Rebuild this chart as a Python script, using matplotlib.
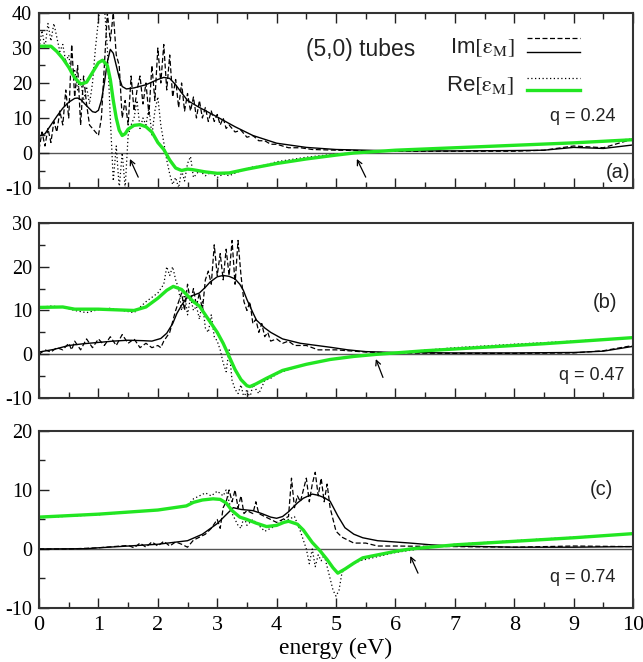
import numpy as np
import matplotlib
matplotlib.use("Agg")
import matplotlib.pyplot as plt
from matplotlib.ticker import MultipleLocator

# ---- panel (a), q = 0.24 ----
a_re_e = [0, 0.2, 0.3, 0.4, 0.5, 0.6, 0.7, 0.8, 0.9, 1.0, 1.07, 1.15, 1.2, 1.25, 1.3,
          1.35, 1.4, 1.45, 1.5, 1.6, 1.7, 1.8, 1.9, 2.0, 2.1, 2.2, 2.3, 2.4, 2.5, 2.6,
          2.8, 3.0, 3.2, 3.5, 4.0, 4.5, 5.0, 5.3, 6, 7, 8, 9, 10]
a_re = [30.5, 30.5, 29, 27, 24.5, 21.5, 19.7, 20.2, 23, 25.8, 26.5, 25, 21, 15, 10,
        6.5, 5, 5.5, 6.8, 7.9, 8.1, 7.5, 6, 3, 1, -2, -4.3, -5, -4.6, -4.8,
        -5.4, -5.8, -5.7, -4.6, -3, -1.7, -0.6, 0, 0.8, 1.5, 2.2, 2.9, 3.8]
a_im_e = [0, 0.1, 0.2, 0.3, 0.4, 0.5, 0.6, 0.65, 0.7, 0.8, 0.9, 0.95, 1.0, 1.05, 1.1,
          1.15, 1.2, 1.25, 1.3, 1.35, 1.4, 1.47, 1.6, 1.8, 2.0, 2.1, 2.2, 2.3, 2.4, 2.5,
          2.7, 3.0, 3.3, 3.6, 4.0, 4.5, 5, 6, 7, 8, 8.5, 9, 9.5, 10]
a_im = [4.8, 5.5, 8, 10.5, 12.8, 14.5, 15.6, 15.7, 15.3, 13.5, 11.8, 11.6, 12.2, 15, 20,
        26, 29.6, 28.5, 25, 21.5, 19, 18.3, 18.6, 19.5, 21, 21.6, 21.3, 19.5, 17.2, 15,
        13, 10.3, 7.5, 5, 2.8, 1.6, 1.0, 0.6, 0.6, 0.7, 0.8, 1.6, 1.3, 2.3]
a_imraw_e = [0, 0.05, 0.1, 0.15, 0.2, 0.25, 0.3, 0.35, 0.4, 0.45, 0.5, 0.55, 0.6, 0.65,
             0.7, 0.75, 0.8, 0.85, 0.9, 0.95, 1.0, 1.05, 1.1, 1.15, 1.2, 1.25, 1.3, 1.35,
             1.4, 1.45, 1.5, 1.55, 1.6, 1.65, 1.7, 1.75, 1.8, 1.85, 1.9, 1.95, 2.0, 2.05,
             2.1, 2.15, 2.2, 2.25, 2.3, 2.35, 2.4, 2.45, 2.5, 2.55, 2.6, 2.65, 2.7, 2.75,
             2.8, 2.85, 2.9, 2.95, 3.0, 3.05, 3.1, 3.15, 3.2, 3.3, 3.4, 3.5, 3.6, 3.7,
             3.8, 3.9, 4.0, 4.2, 4.4, 4.6, 5.0, 6.0, 7.0, 8.0, 8.5, 9.0, 9.5, 10]
a_imraw = [1, 6, 2, 7, 3, 9, 6, 12, 8, 18, 10, 31, 16, 25,
           8, 22, 14, 8, 7, 6, 5, 10, 25, 40, 32, 40, 28, 25,
           10, 15, 8, 22, 12, 18, 22, 14, 20, 11, 25, 15, 30, 20,
           31, 18, 28, 16, 21, 13, 20, 12, 17, 12, 16, 10, 15, 10,
           13, 9, 12, 9, 11, 8, 10, 7, 8, 6, 6.5, 4.5, 5, 3.5,
           3.5, 2.5, 2.5, 1.5, 1.5, 1, 0.8, 0.5, 0.5, 0.5, 0.8, 2, 1.5, 4]
a_reraw_e = [0, 0.05, 0.1, 0.15, 0.2, 0.25, 0.3, 0.35, 0.4, 0.45, 0.5, 0.55, 0.6, 0.65,
             0.7, 0.75, 0.8, 0.85, 0.9, 0.95, 1.0, 1.05, 1.1, 1.15, 1.2, 1.25, 1.3, 1.35,
             1.4, 1.45, 1.5, 1.55, 1.6, 1.65, 1.7, 1.75, 1.8, 1.85, 1.9, 1.95, 2.0, 2.05,
             2.1, 2.15, 2.2, 2.25, 2.3, 2.35, 2.4, 2.45, 2.5, 2.55, 2.6, 2.7, 2.8, 2.9,
             3.0, 3.1, 3.2, 3.4, 3.6, 3.8, 4.0, 4.5, 5.0, 6, 7, 8, 9, 10]
a_reraw = [30, 35, 30, 37, 32, 37, 33, 29, 31, 26, 28, 22, 24, 18,
           21, 15, 19, 14, 20, 30, 38, 45, 42, 30, 10, -8, 2, -10,
           0, -10, 5, 8, 10, 15, 7, 10, 8, 13, 5, 12, 16, 8,
           3, -2, -6, -9, -7, -10, -5, -8, -3, -1, -7, -5, -6.5, -5.5,
           -7, -6, -6.5, -5, -4, -3.5, -2.5, -1.2, -0.3, 0.8, 1.5, 2.2, 2.8, 4]

# ---- panel (b), q = 0.47 ----
b_re_e = [0, 0.4, 0.6, 1.0, 1.4, 1.6, 1.8, 2.0, 2.15, 2.26, 2.4, 2.5, 2.6, 2.7, 2.8,
          2.9, 3.0, 3.1, 3.2, 3.3, 3.4, 3.5, 3.55, 3.65, 3.83, 4.1, 4.5, 4.9, 5.3, 5.7,
          6.5, 7.5, 8.5, 10]
b_re = [10.7, 10.8, 10.3, 10.3, 10.1, 10.0, 10.8, 12.8, 14.6, 15.5, 14.8, 13.4, 12, 11, 9,
        7, 5, 2.5, -0.5, -3.5, -5.8, -7.2, -7.4, -6.8, -5.5, -3.7, -2.3, -1.2, -0.5, 0,
        0.8, 1.6, 2.4, 3.8]
b_im_e = [0, 0.25, 0.5, 0.75, 1.0, 1.25, 1.5, 1.75, 1.9, 2.05, 2.15, 2.25, 2.32, 2.4,
          2.48, 2.6, 2.7, 2.8, 2.88, 3.0, 3.1, 3.2, 3.3, 3.38, 3.44, 3.5, 3.6, 3.66, 3.8,
          3.9, 4.1, 4.4, 4.9, 5.2, 5.5, 6, 7, 8, 9, 9.5, 10]
b_im = [0.5, 1.1, 2.0, 2.4, 2.7, 3.0, 3.2, 3.1, 3.0, 3.6, 4.8, 7, 9.3, 11.2,
        12.8, 13.5, 14, 15.3, 16.5, 17.7, 18, 17.8, 17.2, 16, 14.6, 12.5, 9.5, 7.8, 6,
        5, 3.5, 2.5, 1.6, 1.0, 0.6, 0.4, 0.3, 0.3, 0.4, 0.7, 1.8]
b_imraw_e = [0, 0.1, 0.2, 0.3, 0.4, 0.5, 0.55, 0.6, 0.7, 0.8, 0.9, 1.0, 1.1, 1.2, 1.3,
             1.4, 1.5, 1.6, 1.7, 1.8, 1.9, 2.0, 2.05, 2.1, 2.2, 2.3, 2.4, 2.45, 2.5, 2.55,
             2.6, 2.65, 2.7, 2.75, 2.8, 2.85, 2.9, 2.95, 3.0, 3.05, 3.1, 3.15, 3.2, 3.25,
             3.3, 3.35, 3.4, 3.45, 3.5, 3.55, 3.6, 3.65, 3.7, 3.75, 3.8, 3.85, 3.9, 4.0,
             4.1, 4.2, 4.3, 4.5, 4.7, 5.0, 5.5, 6, 7, 8, 9, 9.5, 10]
b_imraw = [0, 1, 0.5, 1.5, 1, 2.5, 1, 3, 1, 3.5, 1.5, 3.5, 2, 4, 2,
           4.5, 2.5, 3.5, 1.5, 2.5, 1.5, 2, 1.5, 3, 5, 10, 14, 10, 16, 12,
           15, 11, 14, 10, 17, 19, 16, 25, 18, 23, 17, 24, 18, 26,
           16, 26, 18, 12, 10, 12, 7, 8, 5, 7, 4, 5, 3, 3.5,
           2.5, 3, 2, 2, 1, 1, 0.5, 0.3, 0.2, 0.2, 0.3, 0.8, 2]
b_reraw_e = [0, 0.2, 0.4, 0.6, 0.8, 1.0, 1.2, 1.4, 1.6, 1.8, 2.0, 2.1, 2.15, 2.2, 2.25,
             2.3, 2.35, 2.4, 2.45, 2.5, 2.55, 2.6, 2.65, 2.7, 2.75, 2.8, 2.85, 2.9, 2.95,
             3.0, 3.05, 3.1, 3.15, 3.2, 3.25, 3.3, 3.35, 3.4, 3.45, 3.5, 3.55, 3.6, 3.7,
             3.8, 3.9, 4.0, 4.2, 4.5, 5, 5.7, 7, 8, 9, 10]
b_reraw = [10.7, 11, 10.8, 10, 9.5, 10.2, 10.5, 10, 9.5, 12, 14, 16, 20, 18, 20,
           17, 15, 10, 14, 9, 13, 10, 11, 8, 12, 6, 5, 9, 4,
           3, 1, -2, -4, 1, -6, -8, -9, -7, -10, -8, -10, -7, -9,
           -6, -5.5, -4.5, -3.5, -2.2, -1, 0, 1.5, 2.3, 3, 3.8]

# ---- panel (c), q = 0.74 ----
c_re_e = [0, 1, 2, 2.48, 2.6, 2.75, 2.93, 3.05, 3.15, 3.25, 3.38, 3.5, 3.65, 3.83, 4.0,
          4.12, 4.2, 4.35, 4.45, 4.6, 4.73, 4.85, 4.95, 5.03, 5.15, 5.3, 5.45, 5.7, 6.0,
          6.25, 7, 8, 9, 10]
c_re = [5.4, 5.9, 6.6, 7.3, 7.9, 8.3, 8.5, 8.4, 7.8, 6.5, 5.4, 5.0, 4.4, 3.8, 4.0,
        4.5, 4.7, 4.2, 3.2, 1.1, -0.3, -1.8, -3.2, -4.1, -3.4, -2.4, -1.5, -1.0, -0.4,
        0, 0.7, 1.3, 1.9, 2.6]
c_im_e = [0, 0.8, 1.0, 1.5, 2.0, 2.5, 2.75, 3.0, 3.15, 3.27, 3.4, 3.6, 3.75, 3.9, 4.0,
          4.1, 4.2, 4.35, 4.45, 4.6, 4.7, 4.8, 4.9, 5.03, 5.15, 5.3, 5.45, 5.7, 6.25,
          6.6, 7, 8, 9, 10]
c_im = [0, 0.05, 0.2, 0.5, 0.8, 1.4, 2.5, 4.3, 5.8, 7.0, 6.7, 6.5, 6.0, 5.4, 5.2,
        5.5, 6.3, 7.8, 8.6, 9.3, 9.1, 8.7, 8.1, 5.6, 3.6, 2.5, 1.9, 1.4, 1.0,
        0.7, 0.5, 0.3, 0.3, 0.4]
c_imraw_e = [0, 0.5, 1.0, 1.5, 1.6, 1.7, 1.8, 1.9, 2.0, 2.1, 2.2, 2.3, 2.4, 2.5, 2.6,
             2.7, 2.8, 2.9, 3.0, 3.05, 3.1, 3.15, 3.2, 3.25, 3.3, 3.35, 3.4, 3.45, 3.5,
             3.6, 3.65, 3.7, 3.8, 3.9, 4.0, 4.1, 4.2, 4.25, 4.3, 4.35, 4.4, 4.45, 4.5,
             4.55, 4.6, 4.65, 4.7, 4.75, 4.8, 4.85, 4.9, 5.0, 5.1, 5.2, 5.3, 5.5, 5.7,
             6, 7, 8, 9, 10]
c_imraw = [0, 0, 0.2, 0.6, 0.2, 1, 0.3, 1.2, 0.5, 1.3, 0.5, 1.2, 0.8, 0.3, 1.5,
           2, 2.5, 3.5, 5, 3.5, 7, 8, 10, 8, 10, 7, 9, 6, 6.5,
           6, 8, 6, 5.5, 5, 4.5, 5, 5.5, 12, 7, 9, 8, 10, 12,
           8, 11, 13, 9, 12, 8, 11, 7, 3, 2, 1.5, 1.0, 1.0, 0.5,
           0.5, 0.4, 0.3, 0.5, 0.4]
c_reraw_e = [0, 1, 2, 2.5, 2.6, 2.7, 2.8, 2.9, 3.0, 3.1, 3.15, 3.2, 3.25, 3.3, 3.35,
             3.4, 3.45, 3.5, 3.6, 3.7, 3.8, 3.9, 4.0, 4.1, 4.2, 4.3, 4.4, 4.5, 4.55,
             4.6, 4.65, 4.7, 4.75, 4.8, 4.85, 4.9, 4.95, 5.0, 5.05, 5.1, 5.2, 5.4, 5.7,
             6, 6.4, 7, 8, 9, 10]
c_reraw = [5.3, 5.8, 6.6, 7.3, 8.5, 9, 9.5, 9, 9.8, 9, 10, 8, 6, 5, 4,
           3.5, 5.5, 4, 5, 4, 3, 3.5, 4, 5, 5, 5.5, 3, 0, -2.5,
           0, -3, -1, -2, -1, -3, -5, -7, -8, -7, -4, -3, -2, -1.3,
           -0.6, 0, 0.8, 1.4, 2, 2.6]

panels = [
    dict(re_e=a_re_e, re=a_re, im_e=a_im_e, im=a_im, imraw_e=a_imraw_e, imraw=a_imraw,
         reraw_e=a_reraw_e, reraw=a_reraw, ylim=(-10, 40), tag="(a)", q="q = 0.24",
         arrows=[((1.53, -1.7), (1.67, -6.9)), ((5.35, -1.7), (5.5, -6.9))]),
    dict(re_e=b_re_e, re=b_re, im_e=b_im_e, im=b_im, imraw_e=b_imraw_e, imraw=b_imraw,
         reraw_e=b_reraw_e, reraw=b_reraw, ylim=(-10, 30), tag="(b)", q="q = 0.47",
         arrows=[((5.67, -1.1), (5.79, -5.3))]),
    dict(re_e=c_re_e, re=c_re, im_e=c_im_e, im=c_im, imraw_e=c_imraw_e, imraw=c_imraw,
         reraw_e=c_reraw_e, reraw=c_reraw, ylim=(-10, 20), tag="(c)", q="q = 0.74",
         arrows=[((6.25, -1.2), (6.38, -4.1))]),
]

green = "#22e622"
serif = "Liberation Serif"
sans = "Liberation Sans"
plt.rcParams["mathtext.fontset"] = "stix"
plt.rcParams["axes.unicode_minus"] = False

fig = plt.figure(figsize=(6.43, 6.62), dpi=100)
rects = [[0.0607, 0.716, 0.9238, 0.2644],
         [0.0607, 0.3988, 0.9238, 0.2644],
         [0.0607, 0.0816, 0.9238, 0.2674]]

tag_pos = [(0.995, 0.091), (0.973, 0.543), (0.966, 0.667)]
q_pos = [(0.971, 0.406), (0.985, 0.131), (0.971, 0.175)]

for i, (p, r) in enumerate(zip(panels, rects)):
    ax = fig.add_axes(r)
    ax.axhline(0, color="#555555", lw=1.0, zorder=1)
    ax.plot(p["reraw_e"], p["reraw"], color="black", lw=0.9, ls=(0, (1, 2)))
    ax.plot(p["imraw_e"], p["imraw"], color="black", lw=0.9, ls=(0, (4, 2)))
    ax.plot(p["im_e"], p["im"], color="black", lw=1.0)
    ax.plot(p["re_e"], p["re"], color=green, lw=2.4)
    ax.set_xlim(0, 10)
    ax.set_ylim(*p["ylim"])

    ax.xaxis.set_major_locator(MultipleLocator(1))
    ax.xaxis.set_minor_locator(MultipleLocator(0.5))
    ax.yaxis.set_major_locator(MultipleLocator(10))
    ax.yaxis.set_minor_locator(MultipleLocator(5))
    ax.tick_params(which="both", direction="in", right=False, top=(i == 0),
                   width=1.0, color="#222222")
    ax.tick_params(which="major", length=7)
    ax.tick_params(which="minor", length=4)
    ax.tick_params(axis="y", labelsize=14.5, pad=5)
    ax.tick_params(axis="x", labelsize=16, pad=6)
    for lab in ax.get_xticklabels() + ax.get_yticklabels():
        lab.set_fontfamily(serif)
    if i < 2:
        ax.set_xticklabels([])
    for s in ax.spines.values():
        s.set_linewidth(1.5)
        s.set_color("#333333")

    ax.text(*tag_pos[i], p["tag"], transform=ax.transAxes, ha="right", va="center",
            fontsize=14.5, family=sans, color="#222222")
    ax.text(*q_pos[i], p["q"], transform=ax.transAxes, ha="right", va="center",
            fontsize=13, family=sans, color="#222222")
    for tip, tail in p["arrows"]:
        ax.annotate("", xy=tip, xytext=tail,
                    arrowprops=dict(arrowstyle="->", lw=0.9, color="black",
                                    mutation_scale=9, shrinkA=0, shrinkB=0))

    if i == 0:
        ax.text(0.542, 0.789, "(5,0) tubes", transform=ax.transAxes, ha="center",
                va="center", fontsize=16.5, family=sans, color="#222222")
        ax.text(0.80, 0.80, r"Im$\mathrm{[\varepsilon_{M}]}$", transform=ax.transAxes,
                ha="right", va="center", fontsize=16, family=sans, color="#222222")
        ax.text(0.80, 0.583, r"Re$\mathrm{[\varepsilon_{M}]}$", transform=ax.transAxes,
                ha="right", va="center", fontsize=16, family=sans, color="#222222")
        lx = [0.822, 0.911]
        ax.plot(lx, [0.857, 0.857], transform=ax.transAxes, color="black", lw=0.9,
                ls=(0, (4, 2)))
        ax.plot(lx, [0.777, 0.777], transform=ax.transAxes, color="black", lw=1.0)
        ax.plot(lx, [0.629, 0.629], transform=ax.transAxes, color="black", lw=0.9,
                ls=(0, (1, 2)))
        ax.plot(lx, [0.56, 0.56], transform=ax.transAxes, color=green, lw=2.4)
    if i == 2:
        ax.set_xlabel("energy (eV)", fontsize=17, family=serif, labelpad=2)

fig.savefig("out.png", dpi=100)
